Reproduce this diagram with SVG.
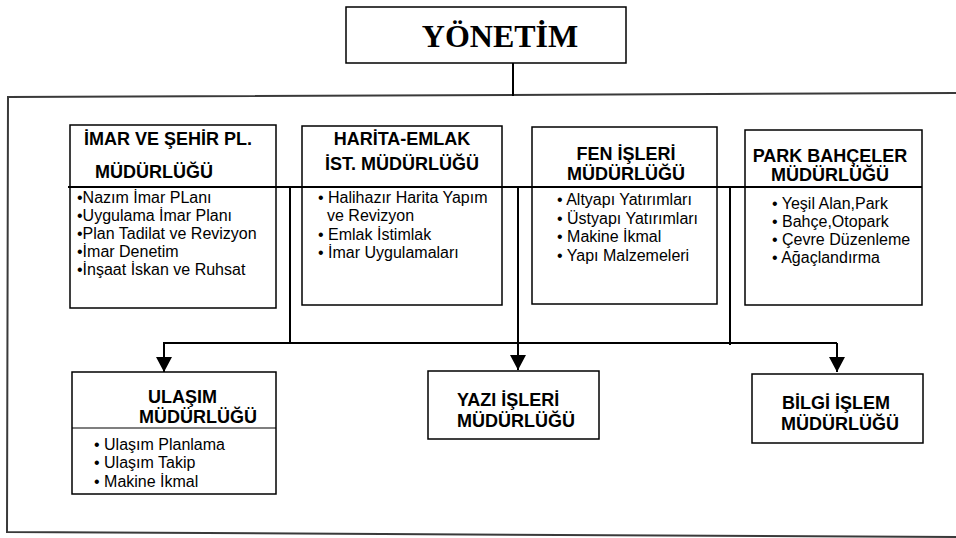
<svg xmlns="http://www.w3.org/2000/svg" width="956" height="538" viewBox="0 0 956 538">
<defs>
<style>
.box{fill:#fff;stroke:#000;stroke-width:1.5}
.frame{fill:none;stroke:#3a3a3a;stroke-width:2}
.ln{fill:none;stroke:#000;stroke-width:2}
.thin{fill:none;stroke:#000;stroke-width:1.2}
.t{font-family:"Liberation Sans",Arial,sans-serif;font-weight:bold;font-size:18px;fill:#000}
.tc{text-anchor:middle}
.b{font-family:"Liberation Sans",Arial,sans-serif;font-size:16px;fill:#000}
.main{font-family:"Liberation Serif","Times New Roman",serif;font-weight:bold;font-size:32px;text-anchor:middle;fill:#000}
</style>
<marker id="ah" markerWidth="15" markerHeight="16" refX="15" refY="8" orient="auto" markerUnits="userSpaceOnUse" viewBox="0 0 15 16">
<path d="M0,0 L15,8 L0,16 Z" fill="#000"/>
</marker>
</defs>
<rect width="956" height="538" fill="#fff"/>
<polyline class="frame" points="956,93 8,97 7,532 956,537"/>

<g id="yonetim">
<rect class="box" x="346" y="7" width="280" height="56"/>
<text class="main" x="500" y="47">YÖNETİM</text>
</g>

<g id="imar">
<rect class="box" x="70" y="125" width="206" height="183"/>
<text class="t" x="84" y="145">İMAR VE ŞEHİR PL.</text>
<text class="t" x="95" y="178">MÜDÜRLÜĞÜ</text>
<text class="b" x="77" y="203">•Nazım İmar PLanı</text>
<text class="b" x="77" y="221">•Uygulama İmar Planı</text>
<text class="b" x="77" y="239">•Plan Tadilat ve Revizyon</text>
<text class="b" x="77" y="257">•İmar Denetim</text>
<text class="b" x="77" y="275">•İnşaat İskan ve  Ruhsat</text>
</g>

<g id="harita">
<rect class="box" x="302" y="126" width="200" height="179"/>
<text class="t tc" x="402" y="145">HARİTA-EMLAK</text>
<text class="t tc" x="402" y="170">İST. MÜDÜRLÜĞÜ</text>
<text class="b" x="318" y="203">• Halihazır Harita Yapım</text>
<text class="b" x="327" y="221">ve Revizyon</text>
<text class="b" x="318" y="240">• Emlak İstimlak</text>
<text class="b" x="318" y="258">• İmar Uygulamaları</text>
</g>

<g id="fen">
<rect class="box" x="532" y="127" width="185" height="177"/>
<text class="t tc" x="626" y="160">FEN İŞLERİ</text>
<text class="t tc" x="626" y="180">MÜDÜRLÜĞÜ</text>
<text class="b" x="557" y="205">• Altyapı Yatırımları</text>
<text class="b" x="557" y="224">• Üstyapı Yatırımları</text>
<text class="b" x="557" y="242">• Makine İkmal</text>
<text class="b" x="557" y="261">• Yapı Malzemeleri</text>
</g>

<g id="park">
<rect class="box" x="745" y="130" width="177" height="175"/>
<text class="t tc" x="830" y="162">PARK BAHÇELER</text>
<text class="t tc" x="830" y="181">MÜDÜRLÜĞÜ</text>
<text class="b" x="772" y="209">• Yeşil Alan,Park</text>
<text class="b" x="772" y="227">• Bahçe,Otopark</text>
<text class="b" x="772" y="245">• Çevre Düzenleme</text>
<text class="b" x="772" y="263">• Ağaçlandırma</text>
</g>

<g id="ulasim">
<rect class="box" x="72" y="372" width="204" height="122"/>
<line class="thin" x1="72" y1="428" x2="276" y2="428"/>
<text class="t" x="148" y="403">ULAŞIM</text>
<text class="t" x="139" y="423">MÜDÜRLÜĞÜ</text>
<text class="b" x="94" y="450">• Ulaşım Planlama</text>
<text class="b" x="94" y="468">• Ulaşım Takip</text>
<text class="b" x="94" y="487">• Makine İkmal</text>
</g>

<g id="yazi">
<rect class="box" x="428" y="371" width="171" height="68"/>
<text class="t" x="457" y="406">YAZI İŞLERİ</text>
<text class="t" x="457" y="427">MÜDÜRLÜĞÜ</text>
</g>

<g id="bilgi">
<rect class="box" x="752" y="374" width="171" height="69"/>
<text class="t" x="782" y="409">BİLGİ İŞLEM</text>
<text class="t" x="781" y="430">MÜDÜRLÜĞÜ</text>
</g>

<g id="connectors">
<line class="ln" x1="513" y1="63" x2="513" y2="96"/>
<line class="ln" x1="68" y1="187" x2="922" y2="187"/>
<line class="ln" x1="290" y1="187" x2="290" y2="344"/>
<line class="ln" x1="730" y1="187" x2="730" y2="345"/>
<line class="ln" x1="163" y1="343" x2="837" y2="343"/>
<line class="ln" x1="518" y1="187" x2="518" y2="370" marker-end="url(#ah)"/>
<line class="ln" x1="164" y1="343" x2="164" y2="372" marker-end="url(#ah)"/>
<line class="ln" x1="837" y1="343" x2="837" y2="372" marker-end="url(#ah)"/>
</g>
</svg>
